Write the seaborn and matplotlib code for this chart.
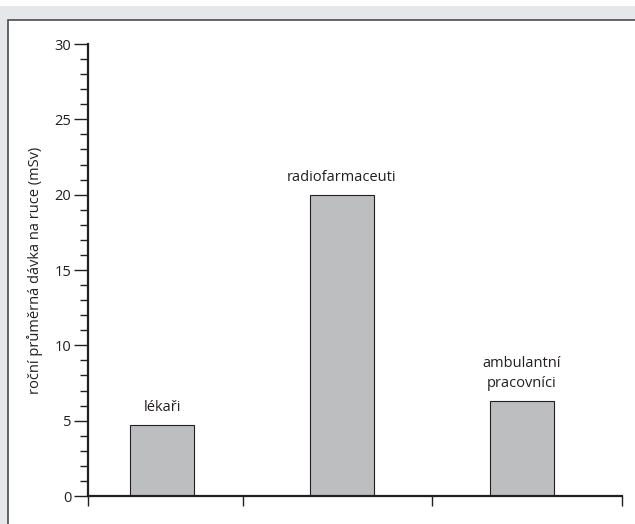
import matplotlib
matplotlib.use('Agg')
import matplotlib.pyplot as plt
import matplotlib.patches as mpatches
from matplotlib.ticker import MultipleLocator
import seaborn as sns
import pandas as pd

# data
categories = ['lékaři', 'radiofarmaceuti', 'ambulantní\npracovníci']
values = [4.7, 20.0, 6.3]
y_label = 'roční průměrná dávka na ruce (mSv)'

sns.set_style('ticks')
plt.rcParams['font.family'] = ['Open Sans', 'DejaVu Sans']
plt.rcParams['font.size'] = 10.5

ink = '#231f20'
bar_fill = '#bcbec0'
panel_grey = '#e6e7e8'

fig = plt.figure(figsize=(6.35, 5.24), dpi=100)
fig.patch.set_facecolor('white')

# grey page background with the white framed panel on top
W, H = 635, 524
fig.patches.append(mpatches.Rectangle((0, 0), 1, 1 - 6 / H, transform=fig.transFigure,
                                      facecolor=panel_grey, edgecolor='none', zorder=0))
fig.patches.append(mpatches.Rectangle((8 / W, -0.01), 1.0, 1 - 20 / H + 0.01,
                                      transform=fig.transFigure, facecolor='white',
                                      edgecolor='#4d4d4f', linewidth=1.2, zorder=1))

ax = fig.add_axes([88 / W, 1 - 496 / H, (622 - 88) / W, (496 - 44) / H])
ax.set_facecolor('none')
ax.set_zorder(2)

df = pd.DataFrame({'group': categories, 'dose': values})
sns.barplot(data=df, x='group', y='dose', ax=ax, color=bar_fill, saturation=1,
            width=0.356, edgecolor=ink, linewidth=0.8)

# category names above the bars
for bar, name in zip(ax.patches, categories):
    ax.annotate(name, (bar.get_x() + bar.get_width() / 2, bar.get_height()),
                xytext=(0, 7), textcoords='offset points',
                ha='center', va='bottom', color=ink, linespacing=1.45)

x_left, x_right = -0.413, 2.558
ax.set_xlim(x_left, x_right)
ax.set_ylim(0, 30)
ax.set_xticks([x_left, 0.449, 1.501, x_right])
ax.set_xticklabels([])
ax.yaxis.set_major_locator(MultipleLocator(5))
ax.yaxis.set_minor_locator(MultipleLocator(1))

ax.tick_params(axis='y', which='major', length=10, width=1.0, color=ink, labelcolor=ink, pad=2)
ax.tick_params(axis='y', which='minor', length=6, width=1.0, color=ink)
ax.tick_params(axis='x', which='major', length=7, width=1.0, color=ink)

ax.set_xlabel('')
ax.set_ylabel(y_label, color=ink, labelpad=8)

sns.despine(ax=ax)
for side in ['left', 'bottom']:
    ax.spines[side].set_color(ink)
    ax.spines[side].set_linewidth(1.6)

plt.savefig('out.png', dpi=100)
plt.close()
